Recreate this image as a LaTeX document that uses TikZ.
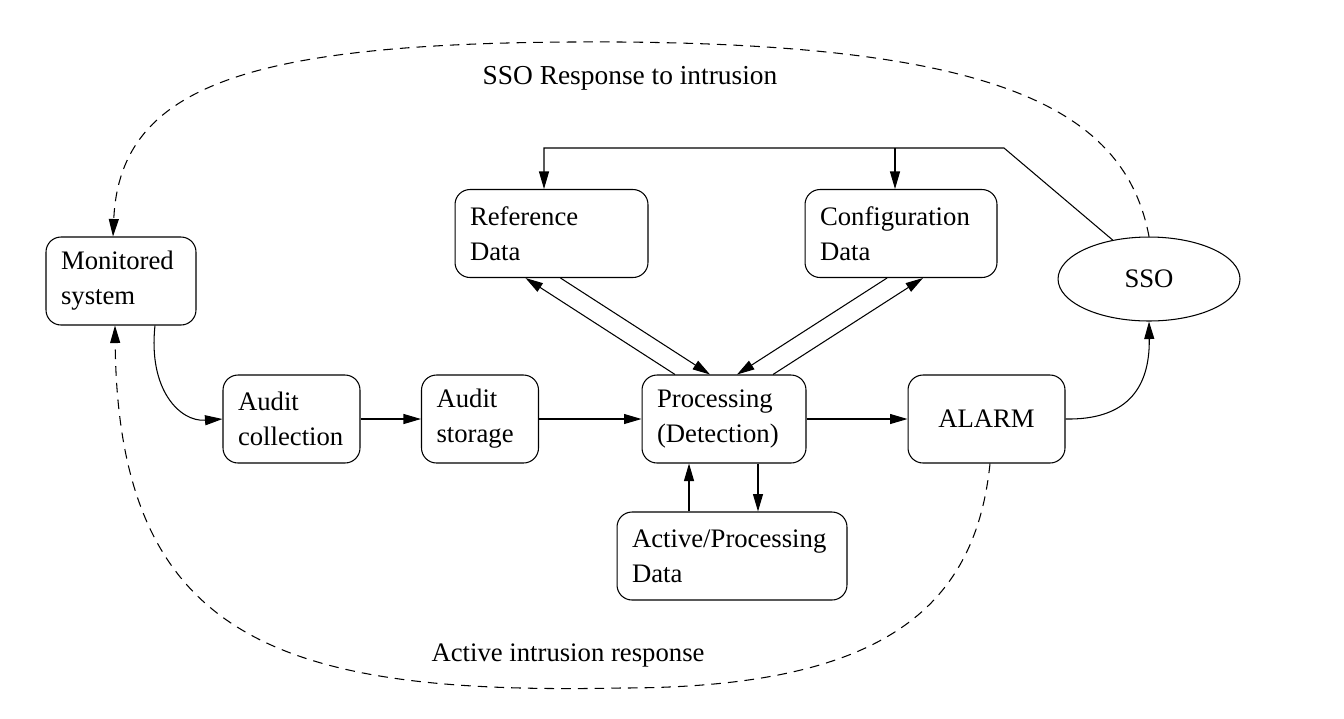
\documentclass[tikz,border=0pt]{standalone}
\RequirePackage{fontspec}
\setmainfont{Liberation Serif}
\RequirePackage{tikz}
\usetikzlibrary{calc}
\usetikzlibrary{arrows.meta}
\usetikzlibrary{shapes.geometric}

\begin{document}
\begin{tikzpicture}[x=0.02cm,y=-0.02cm,
                font=\fontsize{15.2}{19.9}\selectfont,
                blk/.style={draw,line width=0.6pt,rounded corners=0.3cm,minimum height=1.76cm,inner xsep=0.3cm,align=left},
                arr/.style={line width=0.6pt,-{Triangle[length=3.5mm,width=2mm]}},
                dsh/.style={arr,dash pattern=on 5.5pt off 4pt}]
                \useasboundingbox (0,0) rectangle (1344,718);

                \node[blk,text width=2.4cm] (mon) at (121,281) {Monitored\\system};
                \node[blk,text width=2.14cm] (col) at (291.5,419) {Audit\\collection};
                \node[blk,text width=1.74cm] (sto) at (480,419) {Audit\\storage};
                \node[blk,text width=2.68cm] (proc) at (724,419) {Processing\\(Detection)};
                \node[blk,text width=2.54cm,align=center] (alarm) at (986.5,419) {ALARM};
                \node[blk,text width=4.0cm] (act) at (732,556) {Active/Processing\\Data};
                \node[blk,text width=3.26cm] (ref) at (551.5,233.5) {Reference\\Data};
                \node[blk,text width=3.24cm] (conf) at (901,233.5) {Configuration\\Data};
                \node[draw,line width=0.6pt,ellipse,minimum width=3.64cm,minimum height=1.68cm,inner sep=0pt] (sso) at (1149,279) {SSO};

                \node[font=\fontsize{15.6}{19.9}\selectfont] (ssotxt) at (630,78) {SSO Response to intrusion};
                \node (acttxt) at (568,655) {Active intrusion response};

                \coordinate (bend) at (1004,148);
                \coordinate (top) at (620,42);
                \coordinate (bot) at (620,688);
                \coordinate (refin) at ([xshift=-0.15cm]ref.north);
                \coordinate (confin) at ([xshift=-0.12cm]conf.north);

                \draw[arr] ([xshift=0.68cm]mon.south) .. controls (148,390) and (180,422) .. (col.west);
                \draw[arr] (col) -- (sto);
                \draw[arr] (sto) -- (proc);
                \draw[arr] (proc) -- (alarm);
                \draw[arr] (alarm.east) .. controls (1125,420) and (1150,390) .. (sso.south);

                \draw[arr] ([xshift=-0.98cm]proc.north) -- ([xshift=-0.52cm]ref.south);
                \draw[arr] ([xshift=0.18cm]ref.south) -- ([xshift=-0.28cm]proc.north);
                \draw[arr] ([xshift=-0.28cm]conf.south) -- ([xshift=0.26cm]proc.north);
                \draw[arr] ([xshift=0.98cm]proc.north) -- ([xshift=0.44cm]conf.south);

                \draw[arr] ([xshift=-0.7cm]proc.south |- act.north) -- ([xshift=-0.7cm]proc.south);
                \draw[arr] ([xshift=0.68cm]proc.south) -- ([xshift=0.68cm]proc.south |- act.north);

                \draw[arr] (sso.133) -- (bend) -| (refin);
                \draw[arr] (bend -| confin) -- (confin);

                \draw[dsh] (sso.north) .. controls (1125,110) and (1000,45) .. (top)
                           .. controls (260,40) and (120,80) .. ([xshift=-0.16cm]mon.north);
                \draw[dsh] ([xshift=0.07cm]alarm.south) .. controls (975,610) and (880,688) .. (bot)
                           .. controls (280,695) and (118,640) .. ([xshift=-0.12cm]mon.south);
            \end{tikzpicture}
\end{document}
